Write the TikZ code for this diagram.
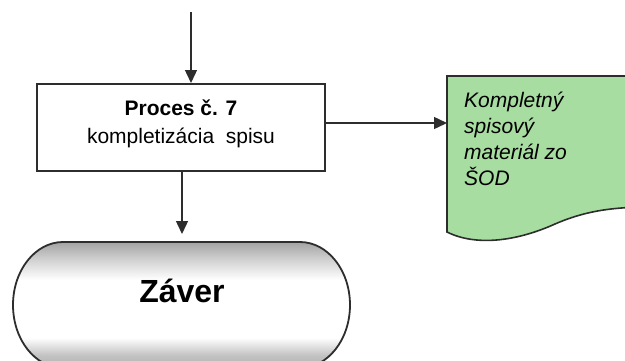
\documentclass[tikz,border=0pt]{standalone}
\usepackage{fontspec}
\setmainfont{Liberation Sans}
\usetikzlibrary{arrows.meta}
\definecolor{docgreen}{RGB}{168,221,162}
\definecolor{linegray}{RGB}{45,45,45}
\pgfdeclareverticalshading{termshade}{100bp}{color(0bp)=(black!30); color(25bp)=(black!30); color(30bp)=(black!24); color(37bp)=(white); color(60bp)=(white); color(68bp)=(black!18); color(75bp)=(black!36); color(100bp)=(black!36)}
\tikzset{
  arr/.style={draw=linegray, line width=1.4pt, -{Triangle[width=12pt,length=13pt]}},
  procbox/.style={draw=linegray, line width=2pt, fill=white, minimum width=288pt, minimum height=87pt, inner sep=0pt},
}
\begin{document}
\begin{tikzpicture}[x=1pt,y=-1pt]
\useasboundingbox (0,0) rectangle (625,360);
\clip (0,0) rectangle (625,360);
% process box
\node[procbox] (proc) at (181,127.5) {};
\node[anchor=base, font=\fontsize{21pt}{27pt}\selectfont\bfseries] (t1) at (181,115) {Proces č. 7};
\node[anchor=base, font=\fontsize{21pt}{27pt}\selectfont] (t2) at (181,143) {kompletizácia\ \ spisu};
% incoming arrow
\coordinate (topin) at (191,12);
\draw[arr] (topin) -- (proc.north -| topin);
% document shape
\draw[draw=linegray, line width=1.6pt, fill=docgreen]
  (640,76) -- (447,76) -- (447,232)
  .. controls (475,246) and (515,242) .. (555,224)
  .. controls (585,211) and (610,208) .. (640,207);
\coordinate (docL) at (447,123);
\node[anchor=north west, inner sep=0pt, align=left, font=\fontsize{21pt}{26pt}\selectfont\itshape] (doctext) at (464,91.5)
  {Kompletný\\spisový\\materiál zo\\ŠOD};
\draw[arr] ([yshift=4.5pt]proc.east) -- (docL);
% terminator
\shade[shading=termshade]
  (63,242) -- (300,242)
  .. controls (327.6,242) and (350,270.2) .. (350,305)
  .. controls (350,339.8) and (327.6,368) .. (300,368)
  -- (63,368)
  .. controls (35.4,368) and (13,339.8) .. (13,305)
  .. controls (13,270.2) and (35.4,242) .. (63,242) -- cycle;
\draw[draw=linegray, line width=1.8pt]
  (63,242) -- (300,242)
  .. controls (327.6,242) and (350,270.2) .. (350,305)
  .. controls (350,339.8) and (327.6,368) .. (300,368)
  -- (63,368)
  .. controls (35.4,368) and (13,339.8) .. (13,305)
  .. controls (13,270.2) and (35.4,242) .. (63,242) -- cycle;
\coordinate (endtop) at (182,240);
\node[anchor=base, font=\fontsize{32pt}{36pt}\selectfont\bfseries] (endtext) at (182,302) {Záver};
\draw[arr] (proc.south -| endtop) -- ([yshift=6pt]endtop);
\end{tikzpicture}
\end{document}
